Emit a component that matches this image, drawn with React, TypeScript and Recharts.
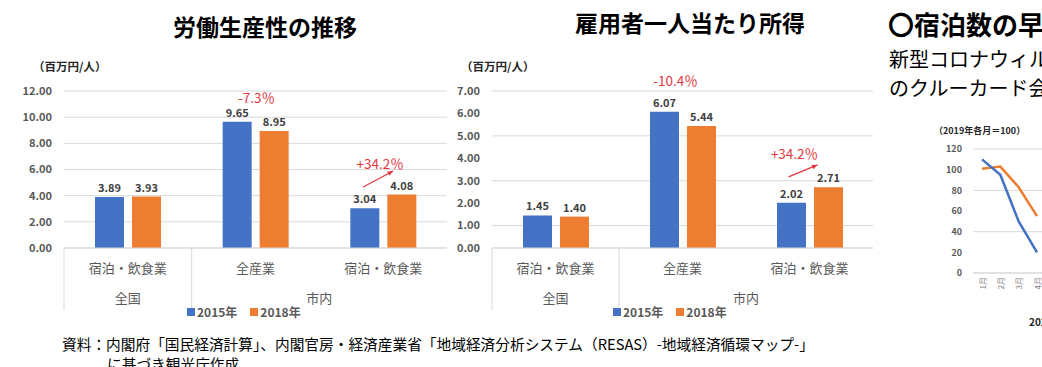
import React from 'react';
import {
  BarChart,
  Bar,
  XAxis,
  YAxis,
  CartesianGrid,
  Legend,
  LabelList,
  ReferenceDot,
  LineChart,
  Line
} from 'recharts';

// categories and groups (two-level axis)
const categories = ['宿泊・飲食業', '全産業', '宿泊・飲食業'];
const regions = ['全国', '市内', '市内'];
const seriesNames = ['2015年', '2018年'];

// 労働生産性 (百万円/人)
const productivity2015 = [3.89, 9.65, 3.04];
const productivity2018 = [3.93, 8.95, 4.08];
const productivityChange = ['-7.3％', '+34.2％'];
const productivityTicks = [0, 2, 4, 6, 8, 10, 12];

// 雇用者一人当たり所得 (百万円/人)
const income2015 = [1.45, 6.07, 2.02];
const income2018 = [1.4, 5.44, 2.71];
const incomeChange = ['-10.4％', '+34.2％'];
const incomeTicks = [0, 1, 2, 3, 4, 5, 6, 7];

// 宿泊数 (2019年各月=100), cut off at the right edge
const months = ['1月', '2月', '3月', '4月'];
const stayBlue = [110, 95, 50, 20];
const stayOrange = [101, 103, 83, 55];
const stayTicks = [0, 20, 40, 60, 80, 100, 120];

const BLUE = '#4472C4';
const ORANGE = '#ED7D31';
const RED = '#E0383E';
const GRID = '#d9d9d9';
const TEXT = '#595959';
const FONT = '"Noto Sans CJK JP", "Noto Sans", sans-serif';

const buildRows = (a: number[], b: number[]) =>
  categories.map((c, i) => ({ key: `${regions[i]}-${c}-${i}`, y2015: a[i], y2018: b[i] }));

const productivityRows = buildRows(productivity2015, productivity2018);
const incomeRows = buildRows(income2015, income2018);

const fmt = (v: any) => Number(v).toFixed(2);

const CategoryTick = (props: any) => {
  const { x, y, payload } = props;
  const i = payload.index;
  const half = payload.offset;
  const first = i === 0 || regions[i - 1] !== regions[i];
  let span = 1;
  while (regions[i + span] === regions[i]) span++;
  return (
    <g>
      <text x={x} y={y + 25} textAnchor="middle" fontSize={13} fill={TEXT}>
        {categories[i]}
      </text>
      {first && (
        <g>
          <line x1={x - half} x2={x - half} y1={y} y2={y + 62} stroke={GRID} />
          <text x={x + (span - 1) * half} y={y + 55} textAnchor="middle" fontSize={13} fill={TEXT}>
            {regions[i]}
          </text>
        </g>
      )}
    </g>
  );
};

const ChangeNote = (props: any) => (
  <text
    x={props.cx + props.dx}
    y={props.cy}
    textAnchor="middle"
    dominantBaseline="central"
    fontSize={13.5}
    fill={RED}
  >
    {props.text}
  </text>
);

const Arrow = (props: any) => {
  const x1 = props.cx + props.dx1;
  const y1 = props.cy;
  const x2 = props.cx + props.dx2;
  const y2 = props.cy + props.dy2;
  const a = Math.atan2(y2 - y1, x2 - x1);
  const l = 6;
  const p1 = [x2 - l * Math.cos(a - 0.4), y2 - l * Math.sin(a - 0.4)];
  const p2 = [x2 - l * Math.cos(a + 0.4), y2 - l * Math.sin(a + 0.4)];
  return (
    <g>
      <line x1={x1} y1={y1} x2={x2} y2={y2} stroke={RED} strokeWidth={1.2} />
      <polygon points={`${x2},${y2} ${p1[0]},${p1[1]} ${p2[0]},${p2[1]}`} fill={RED} />
    </g>
  );
};

const LegendContent = (props: any) => (
  <div style={{ display: 'flex', alignItems: 'center', fontSize: 12, fontWeight: 700, color: TEXT, fontFamily: FONT }}>
    {(props.payload || []).map((p: any) => (
      <span key={p.value} style={{ display: 'flex', alignItems: 'center', marginRight: 13 }}>
        <span style={{ width: 8, height: 8, background: p.color, marginRight: 2, display: 'inline-block' }} />
        {p.value}
      </span>
    ))}
  </div>
);

const MonthTick = ({ x, y, payload }: any) => (
  <text
    x={x}
    y={y}
    transform={`rotate(-90 ${x} ${y})`}
    textAnchor="end"
    dominantBaseline="central"
    fontSize={8}
    fill="#7f7f7f"
  >
    {payload.value}
  </text>
);

const abs = (left: number, top: number): React.CSSProperties => ({ position: 'absolute', left, top });

const GroupedBars = (p: {
  rows: any[];
  ticks: number[];
  max: number;
  right: number;
  legendLeft: number;
  children?: React.ReactNode;
}) => (
  <BarChart
    width={460}
    height={330}
    data={p.rows}
    margin={{ top: 91, right: p.right, bottom: 12, left: 0 }}
    barSize={29}
    barGap={8}
  >
    <CartesianGrid vertical={false} stroke={GRID} />
    <XAxis
      dataKey="key"
      height={70}
      tickSize={0}
      tickMargin={0}
      axisLine={{ stroke: GRID }}
      tickLine={false}
      interval={0}
      tick={<CategoryTick />}
    />
    <YAxis
      width={64}
      domain={[0, p.max]}
      ticks={p.ticks}
      tickFormatter={fmt}
      axisLine={false}
      tickLine={false}
      tickMargin={6}
      tick={{ fontSize: 11, fontWeight: 700, fill: TEXT }}
    />
    <Legend
      verticalAlign="middle"
      content={<LegendContent />}
      wrapperStyle={{ left: p.legendLeft, top: 303, width: 'auto', height: 16 }}
    />
    <Bar dataKey="y2015" name={seriesNames[0]} fill={BLUE} isAnimationActive={false}>
      <LabelList dataKey="y2015" position="top" formatter={fmt} style={{ fontSize: 11, fontWeight: 700, fill: '#404040' }} />
    </Bar>
    <Bar dataKey="y2018" name={seriesNames[1]} fill={ORANGE} isAnimationActive={false}>
      <LabelList dataKey="y2018" position="top" formatter={fmt} style={{ fontSize: 11, fontWeight: 700, fill: '#404040' }} />
    </Bar>
    {p.children}
  </BarChart>
);

const Title = ({ text, cx, cy }: { text: string; cx: number; cy: number }) => (
  <div
    style={{
      ...abs(cx - 200, cy - 16),
      width: 400,
      textAlign: 'center',
      fontSize: 23,
      fontWeight: 700,
      lineHeight: '32px',
      color: '#000'
    }}
  >
    {text}
  </div>
);

const Unit = ({ left, top, text }: { left: number; top: number; text: string }) => (
  <div style={{ ...abs(left, top), fontSize: 11.5, fontWeight: 700, color: '#262626', whiteSpace: 'nowrap' }}>{text}</div>
);

export default function App() {
  return (
    <div
      style={{
        position: 'absolute',
        left: 0,
        top: 0,
        width: 1042,
        height: 367,
        overflow: 'hidden',
        background: '#fff',
        fontFamily: FONT
      }}
    >
      <Title text="労働生産性の推移" cx={265} cy={26} />
      <Title text="雇用者一人当たり所得" cx={690} cy={22} />
      <Unit left={33} top={58} text="（百万円/人）" />
      <Unit left={461} top={58} text="（百万円/人）" />

      <div style={abs(0, 0)}>
        <GroupedBars rows={productivityRows} ticks={productivityTicks} max={12} right={13} legendLeft={187}>
          <ReferenceDot
            x={productivityRows[1].key}
            y={11.54}
            r={0}
            ifOverflow="visible"
            shape={(s: any) => <ChangeNote {...s} dx={1} text={productivityChange[0]} />}
          />
          <ReferenceDot
            x={productivityRows[2].key}
            y={6.5}
            r={0}
            ifOverflow="visible"
            shape={(s: any) => <ChangeNote {...s} dx={-3} text={productivityChange[1]} />}
          />
          <ReferenceDot
            x={productivityRows[2].key}
            y={4.66}
            r={0}
            ifOverflow="visible"
            shape={(s: any) => <Arrow {...s} dx1={-20} dx2={10} dy2={-16} />}
          />
        </GroupedBars>
      </div>

      <div style={abs(428, 0)}>
        <GroupedBars rows={incomeRows} ticks={incomeTicks} max={7} right={15} legendLeft={185}>
          <ReferenceDot
            x={incomeRows[1].key}
            y={7.49}
            r={0}
            ifOverflow="visible"
            shape={(s: any) => <ChangeNote {...s} dx={-7} text={incomeChange[0]} />}
          />
          <ReferenceDot
            x={incomeRows[2].key}
            y={4.24}
            r={0}
            ifOverflow="visible"
            shape={(s: any) => <ChangeNote {...s} dx={-15} text={incomeChange[1]} />}
          />
          <ReferenceDot
            x={incomeRows[2].key}
            y={3.17}
            r={0}
            ifOverflow="visible"
            shape={(s: any) => <Arrow {...s} dx1={-21} dx2={8} dy2={-12} />}
          />
        </GroupedBars>
      </div>

      <div style={{ ...abs(62, 334), fontSize: 14.7, color: '#000', whiteSpace: 'nowrap', lineHeight: '20px' }}>
        資料：内閣府「国民経済計算」、内閣官房・経済産業省「地域経済分析システム（RESAS）-地域経済循環マップ-」
      </div>
      <div style={{ ...abs(107, 354), fontSize: 14.7, color: '#000', whiteSpace: 'nowrap', lineHeight: '20px' }}>
        に基づき観光庁作成
      </div>

      {/* right panel, cut off by the frame */}
      <div style={{ ...abs(888, 8), fontSize: 26, fontWeight: 700, color: '#000', whiteSpace: 'nowrap', lineHeight: '32px' }}>
        〇宿泊数の早
      </div>
      <div style={{ ...abs(889, 44), fontSize: 20, color: '#000', whiteSpace: 'nowrap', lineHeight: '29px' }}>
        新型コロナウィル
        <br />
        のクルーカード会
      </div>
      <div style={{ ...abs(934, 124), fontSize: 9, fontWeight: 700, color: '#262626', whiteSpace: 'nowrap' }}>
        （2019年各月＝100）
      </div>
      <div style={{ ...abs(1029, 314), fontSize: 10, fontWeight: 700, color: '#262626', whiteSpace: 'nowrap' }}>
        2020年
      </div>
      <div style={abs(920, 110)}>
        <LineChart
          width={200}
          height={200}
          data={months.map((m, i) => ({ month: m, blue: stayBlue[i], orange: stayOrange[i] }))}
          margin={{ top: 39, right: 0, bottom: 7, left: 0 }}
        >
          <CartesianGrid vertical={false} stroke={GRID} />
          <XAxis
            dataKey="month"
            height={30}
            padding={{ left: 9, right: 83 }}
            axisLine={{ stroke: GRID }}
            tickLine={false}
            tickSize={0}
            tickMargin={4}
            interval={0}
            tick={<MonthTick />}
          />
          <YAxis
            width={53}
            domain={[0, 120]}
            ticks={stayTicks}
            axisLine={false}
            tickLine={false}
            tickMargin={5}
            tick={{ fontSize: 9, fontWeight: 700, fill: TEXT }}
          />
          <Line dataKey="orange" stroke={ORANGE} strokeWidth={2.5} dot={false} isAnimationActive={false} />
          <Line dataKey="blue" stroke={BLUE} strokeWidth={2.5} dot={false} isAnimationActive={false} />
        </LineChart>
      </div>
    </div>
  );
}
